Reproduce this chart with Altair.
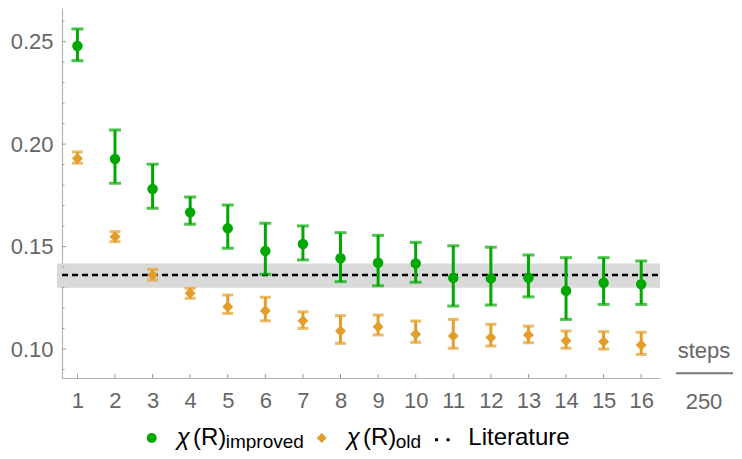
import altair as alt
import pandas as pd

# ---- data ----
steps = list(range(1, 17))
imp = [0.2479, 0.1927, 0.1781, 0.1667, 0.1589, 0.1479, 0.1513, 0.1443,
       0.1421, 0.1418, 0.1348, 0.1345, 0.1348, 0.1285, 0.1324, 0.1316]
imp_hi = [0.2562, 0.2069, 0.1902, 0.1742, 0.1703, 0.1614, 0.1601, 0.1568,
          0.1555, 0.1521, 0.1504, 0.1497, 0.1459, 0.1446, 0.1446, 0.1430]
imp_lo = [0.2407, 0.1809, 0.1687, 0.1609, 0.1492, 0.1365, 0.1435, 0.1329,
          0.1309, 0.1326, 0.1210, 0.1215, 0.1255, 0.1145, 0.1218, 0.1218]
old = [0.1930, 0.1548, 0.1361, 0.1272, 0.1207, 0.1187, 0.1138, 0.1088,
       0.1109, 0.1073, 0.1064, 0.1057, 0.1069, 0.1041, 0.1036, 0.1020]
old_hi = [0.1962, 0.1573, 0.1389, 0.1296, 0.1264, 0.1253, 0.1182, 0.1163,
          0.1166, 0.1137, 0.1145, 0.1121, 0.1112, 0.1088, 0.1085, 0.1082]
old_lo = [0.1907, 0.1524, 0.1337, 0.1248, 0.1174, 0.1138, 0.1101, 0.1028,
          0.1069, 0.1033, 0.1004, 0.1015, 0.1031, 0.1004, 0.1000, 0.0974]
lit_val = [0.1361]
lit_lo = [0.1299]
lit_hi = [0.1418]
y_major = [0.10, 0.15, 0.20, 0.25]
y_minor = [0.09, 0.11, 0.12, 0.13, 0.14, 0.16, 0.17, 0.18, 0.19,
           0.21, 0.22, 0.23, 0.24, 0.26]

GREEN = "#00A800"
ORANGE = "#E39E2A"
FONT = "Liberation Sans"
W, H = 598, 370

df_imp = pd.DataFrame({"step": steps, "v": imp, "hi": imp_hi, "lo": imp_lo})
df_old = pd.DataFrame({"step": steps, "v": old, "hi": old_hi, "lo": old_lo})
df_lit = pd.DataFrame({"v": lit_val, "lo": lit_lo, "hi": lit_hi})

xs = alt.Scale(domain=[0.59, 16.5], nice=False, zero=False)
ys = alt.Scale(domain=[0.0859, 0.2664], nice=False, zero=False)

XA = alt.Axis(values=steps, format="d", title=None)
YA = alt.Axis(values=y_major, format=".2f", title=None)


def xq(f):
    return alt.X(f, scale=xs, axis=XA)


def yq(f):
    return alt.Y(f, scale=ys, axis=YA)


band = alt.Chart(df_lit).mark_rect(color="#d9d9d9").encode(
    y=yq("lo:Q"), y2="hi:Q", x=alt.value(-5), x2=alt.value(W))
litline = alt.Chart(df_lit).mark_rule(color="black", strokeWidth=2.5,
                                       strokeDash=[6, 4]).encode(
    y=yq("v:Q"), x=alt.value(0), x2=alt.value(W))


def series(df, color, shape, size, cap):
    base = alt.Chart(df)
    bar = base.mark_rule(color=color, strokeWidth=3).encode(
        x=xq("step:Q"), y=yq("lo:Q"), y2="hi:Q")
    top = base.mark_tick(color=color, orient="horizontal", size=cap,
                         thickness=3).encode(x=xq("step:Q"), y=yq("hi:Q"))
    bot = base.mark_tick(color=color, orient="horizontal", size=cap,
                         thickness=3).encode(x=xq("step:Q"), y=yq("lo:Q"))
    pt = base.mark_point(color=color, shape=shape, filled=True, size=size,
                         opacity=1).encode(x=xq("step:Q"), y=yq("v:Q"))
    return [bar, top, bot, pt]


tick_major = alt.Chart(pd.DataFrame({"t": y_major})).mark_rule(
    color="#999999", strokeWidth=1).encode(
    y=yq("t:Q"), x=alt.value(0), x2=alt.value(4))
tick_minor = alt.Chart(pd.DataFrame({"t": y_minor})).mark_rule(
    color="#999999", strokeWidth=1).encode(
    y=yq("t:Q"), x=alt.value(0), x2=alt.value(2.5))
tick_x = alt.Chart(pd.DataFrame({"t": steps})).mark_rule(
    color="#999999", strokeWidth=1).encode(
    x=xq("t:Q"), y=alt.value(H), y2=alt.value(H - 4))

one = alt.Data(values=[{}])


def txt(s, x, y, size, color="black", align="left", style="normal"):
    return alt.Chart(one).mark_text(
        text=s, font=FONT, fontSize=size, color=color, align=align,
        baseline="alphabetic", fontStyle=style).encode(
        x=alt.value(x), y=alt.value(y))


LB = 437  # legend main baseline (plot coords)
legend = [
    alt.Chart(one).mark_point(shape="circle", filled=True, size=100,
                              color=GREEN, opacity=1).encode(
        x=alt.value(89.7), y=alt.value(LB - 7)),
    txt("χ", 114.7, LB, 24, style="italic"),
    txt("(R)", 131, LB, 24),
    txt("improved", 163.7, LB + 3, 19),
    alt.Chart(one).mark_point(shape="diamond", filled=True, size=100,
                              color=ORANGE, opacity=1).encode(
        x=alt.value(259.7), y=alt.value(LB - 7)),
    txt("χ", 284.7, LB, 24, style="italic"),
    txt("(R)", 301, LB, 24),
    txt("old", 333.7, LB + 3, 19),
    alt.Chart(one).mark_rule(color="black", strokeWidth=3,
                             strokeDash=[3, 8.6]).encode(
        x=alt.value(373), x2=alt.value(389), y=alt.value(LB - 5.3)),
    txt("Literature", 406.3, LB, 24),
    txt("steps", 642, 350, 22, color="#666666", align="center"),
    alt.Chart(one).mark_rule(color="#777777", strokeWidth=2).encode(
        x=alt.value(614), x2=alt.value(671), y=alt.value(365.3)),
    txt("250", 642, 401, 22, color="#666666", align="center"),
]

layers = [band, litline] + series(df_old, ORANGE, "diamond", 120, 11) + \
    series(df_imp, GREEN, "circle", 110, 12) + \
    [tick_major, tick_minor, tick_x] + legend

chart = alt.layer(*layers).properties(
    width=W, height=H,
    autosize=alt.AutoSizeParams(type="none"),
    padding={"left": 54, "top": 0, "right": 74, "bottom": 73},
).configure_view(stroke=None).configure_axis(
    labelOverlap=False, labelFlush=False, ticks=False, grid=False,
    domainColor="#b3b3b3", domainWidth=1.2, labelFont=FONT,
    labelFontSize=22, labelColor="#666666",
).configure_axisX(labelPadding=12).configure_axisY(labelPadding=9)

chart.save("out.html", embed_options={"renderer": "svg", "actions": False})
